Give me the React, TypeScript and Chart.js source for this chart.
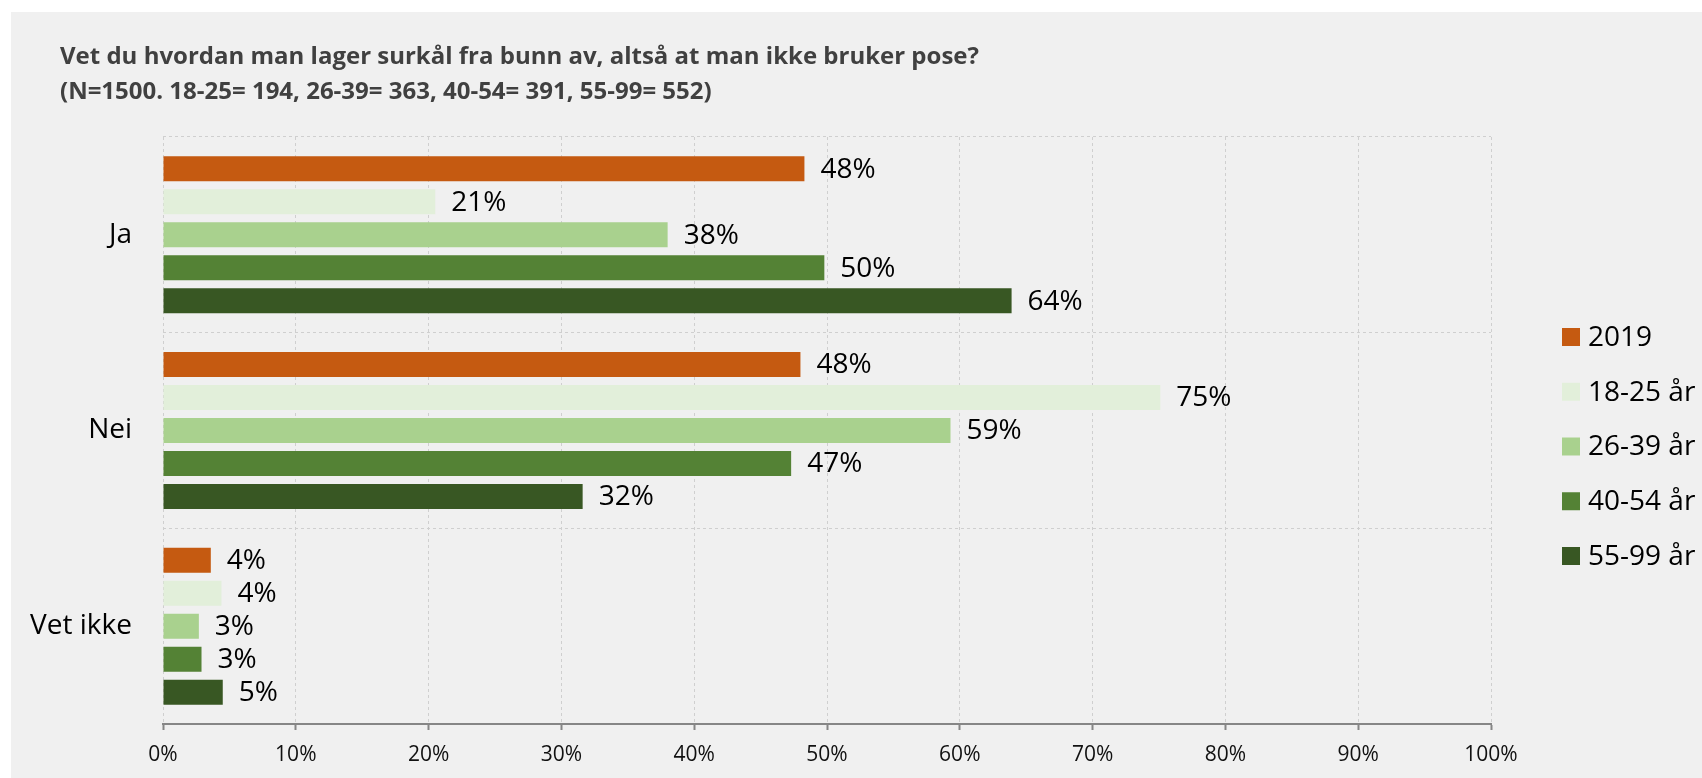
import { useEffect, useRef } from "react";
import { Chart, registerables } from "chart.js";

Chart.register(...registerables);

// Answers on the y axis, one bar per group inside each answer
const categories = ["Ja", "Nei", "Vet ikke"];
const seriesLabels = ["2019", "18-25 år", "26-39 år", "40-54 år", "55-99 år"];
const seriesColors = ["#C55A11", "#E2EFDA", "#A9D18E", "#548235", "#385723"];

// Share of respondents (%) per answer: Ja, Nei, Vet ikke
const values2019 = [48.3, 48.0, 3.6];
const values18to25 = [20.5, 75.1, 4.4];
const values26to39 = [38.0, 59.3, 2.7];
const values40to54 = [49.8, 47.3, 2.9];
const values55to99 = [63.9, 31.6, 4.5];

const xMin = 0;
const xMax = 100;
const xStep = 10;

const titleLines = [
  "Vet du hvordan man lager surkål fra bunn av, altså at man ikke bruker pose?",
  "(N=1500. 18-25= 194, 26-39= 363, 40-54= 391, 55-99= 552)",
];

const FONT = '"Open Sans", "Noto Sans", sans-serif';
const W = 1702;
const H = 778;

const panelPlugin = {
  id: "panel",
  beforeDraw(chart: any) {
    const { ctx, width, height } = chart;
    ctx.save();
    ctx.fillStyle = "#ffffff";
    ctx.fillRect(0, 0, width, height);
    ctx.fillStyle = "#f0f0f0";
    ctx.fillRect(11, 12, width - 11, height - 12);
    ctx.restore();
  },
};

const titlePlugin = {
  id: "twoLineTitle",
  afterDraw(chart: any) {
    const { ctx } = chart;
    ctx.save();
    ctx.font = `bold 24px ${FONT}`;
    ctx.fillStyle = "#404040";
    ctx.textAlign = "left";
    ctx.textBaseline = "alphabetic";
    ctx.fillText(titleLines[0], 60, 64);
    ctx.fillText(titleLines[1], 60, 99);
    ctx.restore();
  },
};

const valueLabelPlugin = {
  id: "valueLabels",
  afterDatasetsDraw(chart: any) {
    const { ctx } = chart;
    ctx.save();
    ctx.font = `28px ${FONT}`;
    ctx.fillStyle = "#000000";
    ctx.textAlign = "left";
    ctx.textBaseline = "middle";
    chart.data.datasets.forEach((ds: any, di: number) => {
      const meta = chart.getDatasetMeta(di);
      meta.data.forEach((bar: any, i: number) => {
        const v = ds.data[i] as number;
        ctx.fillText(`${Math.round(v)}%`, bar.x + 16, bar.y + 1);
      });
    });
    ctx.restore();
  },
};

const sideLegendPlugin = {
  id: "sideLegend",
  afterDraw(chart: any) {
    const { ctx, chartArea } = chart;
    const boxX = chartArea.right + 71;
    const firstY = chartArea.top + 200;
    const step = 54.75;
    ctx.save();
    ctx.font = `28px ${FONT}`;
    ctx.textAlign = "left";
    ctx.textBaseline = "middle";
    chart.data.datasets.forEach((ds: any, i: number) => {
      const cy = firstY + i * step;
      ctx.fillStyle = ds.backgroundColor;
      ctx.fillRect(boxX, cy - 9, 18, 18);
      ctx.fillStyle = "#000000";
      ctx.fillText(ds.label, boxX + 26, cy + 1);
    });
    ctx.restore();
  },
};

export default function App() {
  const canvasRef = useRef<HTMLCanvasElement | null>(null);

  useEffect(() => {
    const canvas = canvasRef.current;
    if (!canvas) return;
    const seriesValues = [values2019, values18to25, values26to39, values40to54, values55to99];

    const chart = new Chart(canvas, {
      type: "bar",
      data: {
        labels: categories,
        datasets: seriesValues.map((vals, i) => ({
          label: seriesLabels[i],
          data: vals,
          backgroundColor: seriesColors[i],
          borderWidth: 0,
          barPercentage: 0.758,
          categoryPercentage: 0.843,
        })),
      },
      options: {
        indexAxis: "y",
        responsive: false,
        animation: false,
        devicePixelRatio: 1,
        layout: { padding: { top: 137, right: 211, left: 0, bottom: 0 } },
        plugins: {
          legend: { display: false },
          title: { display: false },
          tooltip: { enabled: false },
        },
        scales: {
          x: {
            type: "linear",
            min: xMin,
            max: xMax,
            afterFit(scale: any) {
              scale.height = 54;
            },
            ticks: {
              stepSize: xStep,
              padding: 12,
              color: "#111111",
              font: { family: FONT, size: 21 },
              callback: (v: any) => `${v}%`,
            },
            grid: {
              color: "#cfcfcf",
              lineWidth: 1,
              drawTicks: true,
              tickLength: 6,
              tickColor: "#868686",
              tickWidth: 2,
              tickBorderDash: [],
            },
            border: { display: true, color: "#868686", width: 2, dash: [3, 3] },
          },
          y: {
            type: "category",
            offset: true,
            afterFit(scale: any) {
              scale.width = 163;
            },
            ticks: {
              padding: 31,
              color: "#000000",
              font: { family: FONT, size: 28 },
            },
            grid: {
              offset: true,
              color: "#cfcfcf",
              lineWidth: 1,
              drawTicks: false,
            },
            border: { display: false, dash: [3, 3] },
          },
        },
      },
      plugins: [panelPlugin, titlePlugin, valueLabelPlugin, sideLegendPlugin],
    });

    let alive = true;
    if ((document as any).fonts) {
      Promise.all([
        document.fonts.load(`28px ${FONT}`),
        document.fonts.load(`bold 24px ${FONT}`),
        document.fonts.load(`21px ${FONT}`),
      ]).then(() => {
        if (alive) chart.update();
      });
    }

    return () => {
      alive = false;
      chart.destroy();
    };
  }, []);

  return (
    <canvas
      ref={canvasRef}
      width={W}
      height={H}
      style={{ position: "fixed", left: 0, top: 0, width: W, height: H, display: "block" }}
    />
  );
}
